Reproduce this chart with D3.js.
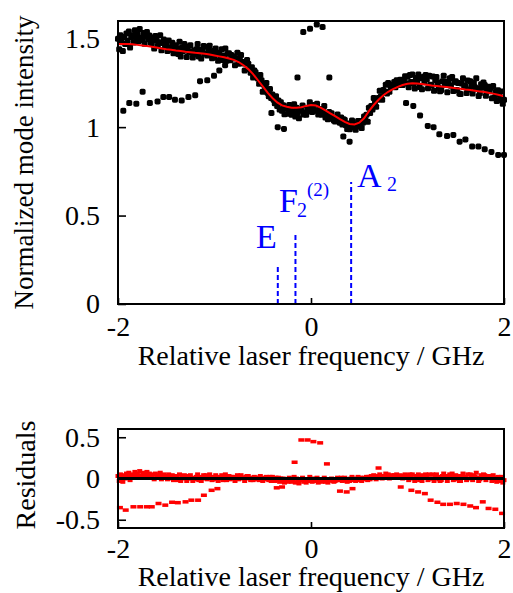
<!DOCTYPE html>
<html>
<head>
<meta charset="utf-8">
<script src="https://cdn.jsdelivr.net/npm/d3@7"></script>
<style>
  html, body { margin: 0; padding: 0; background: #fff; }
  svg { display: block; font-family: "Liberation Serif", "Times New Roman", serif; }
</style>
</head>
<body>
<svg id="chart" width="513" height="593"></svg>
<script>
// Laser sweep from -2 to 2 GHz; fit sampled every 50 MHz, four readings per fit step.
const sweepStart = -2;
const fitStep = 0.05;
const subStep = 0.0125;

// Fitted normalized mode intensity at each 50 MHz step (-2.00 ... 2.00 GHz)
const fitIntensity = [
  1.47, 1.47, 1.47, 1.468, 1.465, 1.462, 1.458, 1.455, 1.45, 1.445,
  1.44, 1.437, 1.433, 1.43, 1.426, 1.423, 1.42, 1.418, 1.415, 1.41,
  1.405, 1.40, 1.395, 1.388, 1.38, 1.368, 1.35, 1.328, 1.30, 1.265,
  1.23, 1.195, 1.165, 1.14, 1.123, 1.115, 1.11, 1.11, 1.112, 1.12,
  1.125, 1.122, 1.11, 1.095, 1.078, 1.062, 1.045, 1.03, 1.018, 1.015,
  1.025, 1.05, 1.09, 1.125, 1.155, 1.18, 1.2, 1.215, 1.228, 1.238,
  1.245, 1.248, 1.247, 1.244, 1.24, 1.236, 1.233, 1.23, 1.227, 1.224,
  1.22, 1.217, 1.213, 1.21, 1.206, 1.202, 1.198, 1.193, 1.188, 1.182,
  1.175
];

// Residuals (measured - fit), four readings per fit step
const residualRows = [
  [0.03, -0.03, 0.05, 0.01], [-0.04, 0.04, 0.00, 0.06], [0.02, 0.07, -0.02, 0.04],
  [0.05, 0.01, 0.08, 0.03], [0.06, 0.02, 0.09, 0.04], [0.03, 0.07, 0.01, 0.05],
  [0.08, 0.04, 0.06, 0.02], [0.02, 0.05, -0.01, 0.06], [0.04, 0.01, 0.03, 0.07],
  [-0.01, 0.03, 0.05, 0.01],
  [0.03, -0.01, 0.05, 0.01], [0.00, 0.04, -0.02, 0.02], [0.03, 0.01, -0.02, 0.05],
  [-0.03, 0.02, 0.00, 0.04], [0.01, -0.03, 0.03, 0.00], [0.04, 0.00, -0.03, 0.01],
  [-0.01, 0.02, 0.05, -0.02], [0.02, -0.03, 0.01, 0.04], [0.00, 0.04, -0.01, 0.02],
  [0.05, 0.01, -0.02, 0.02], [-0.01, 0.04, 0.01, -0.03], [0.02, 0.00, 0.04, -0.02],
  [0.01, 0.05, -0.02, 0.02], [0.03, -0.01, 0.02, 0.00],
  [0.02, -0.03, 0.01, 0.04], [-0.01, 0.02, 0.04, 0.00], [0.01, -0.03, 0.02, 0.03],
  [0.03, 0.00, -0.02, 0.01], [-0.02, 0.02, 0.01, -0.01], [0.01, -0.02, 0.03, 0.00],
  [-0.03, 0.01, -0.01, 0.02], [0.00, -0.02, 0.02, -0.03], [0.02, -0.01, -0.03, 0.01],
  [-0.02, 0.01, -0.04, 0.00],
  [-0.03, 0.00, -0.05, -0.01], [-0.01, -0.04, 0.01, -0.02], [-0.04, -0.02, 0.02, -0.05],
  [0.00, -0.03, -0.06, -0.01], [-0.02, 0.01, -0.04, -0.03], [-0.05, -0.01, -0.03, 0.02],
  [-0.02, -0.04, 0.00, -0.03], [-0.03, 0.01, -0.05, -0.02], [-0.01, -0.04, -0.02, 0.01],
  [-0.04, -0.02, -0.05, -0.01], [-0.02, 0.00, -0.03, -0.04], [-0.03, -0.01, 0.01, -0.02],
  [-0.02, 0.01, -0.03, 0.00], [0.01, -0.02, -0.04, -0.01], [-0.03, 0.00, 0.02, -0.02],
  [0.00, -0.03, -0.01, 0.02], [-0.02, 0.01, -0.03, 0.00], [0.01, -0.01, 0.02, -0.02],
  [0.02, -0.01, 0.03, 0.01], [0.04, 0.01, -0.01, 0.03], [0.01, 0.05, 0.02, 0.00],
  [0.03, 0.02, 0.06, 0.01], [0.05, 0.00, 0.03, 0.04], [0.02, 0.04, 0.01, 0.05],
  [0.03, 0.01, 0.04, 0.02], [0.00, 0.03, 0.05, 0.01],
  [0.04, -0.02, 0.05, 0.01], [0.05, 0.00, -0.03, 0.03], [0.01, 0.05, -0.02, 0.03],
  [-0.03, 0.04, 0.01, 0.05], [0.03, -0.02, 0.05, 0.00], [0.00, 0.05, -0.03, 0.03],
  [0.05, 0.02, -0.01, -0.03], [-0.02, 0.03, 0.06, 0.01], [0.03, -0.03, 0.02, 0.05],
  [0.01, 0.06, -0.02, 0.03], [0.04, -0.01, 0.03, -0.03], [-0.03, 0.03, 0.06, 0.01],
  [0.02, -0.02, 0.05, 0.00], [0.05, 0.02, -0.02, 0.04], [0.02, 0.07, 0.01, -0.03],
  [-0.01, 0.04, 0.02, 0.05], [0.04, -0.02, 0.01, 0.03], [0.01, 0.03, -0.03, 0.04],
  [-0.02, 0.01, -0.04, 0.02], [0.00, -0.03, 0.02, -0.05], [-0.02, 0.01, -0.04, 0.00]
];

// Readings off the main band (second mode track)
const outlierFreq = [
  -1.945, -1.883, -1.81, -1.745, -1.67, -1.59, -1.53, -1.47, -1.41, -1.34,
  -1.27, -1.20, -1.15, -1.075, -1.005, -0.95, -0.89, -0.41, -0.345, -0.28,
  -0.14, -0.08, -0.01, 0.06, 0.12, 0.19, 0.335, 0.40, 0.985, 1.06,
  1.13, 1.21, 1.27, 1.33, 1.41, 1.475, 1.54, 1.60, 1.67, 1.735,
  1.80, 1.87, 1.94, 2.0
];
const outlierIntensity = [
  1.092, 1.136, 1.132, 1.20, 1.136, 1.145, 1.17, 1.17, 1.155, 1.15,
  1.17, 1.18, 1.26, 1.265, 1.29, 1.32, 1.35, 1.08, 1.00, 0.99,
  1.28, 1.538, 1.556, 1.58, 1.566, 1.28, 0.947, 0.918, 1.136, 1.12,
  1.066, 1.007, 1.0, 0.96, 0.95, 0.956, 0.918, 0.93, 0.89, 0.89,
  0.875, 0.86, 0.843, 0.843
];
const residOutlierFreq = [
  -1.98, -1.92, -1.84, -1.77, -1.70, -1.65, -1.58, -1.51, -1.44, -1.38,
  -1.30, -1.24, -1.17, -1.11, -1.03, -0.97, -0.355, -0.30, -0.17, -0.10,
  -0.035, 0.025, 0.095, 0.165, 0.30, 0.37, 0.43, 0.70, 0.93, 1.04,
  1.11, 1.18, 1.24, 1.31, 1.37, 1.44, 1.51, 1.58, 1.65, 1.71,
  1.78, 1.84, 1.91, 1.98
];
const residOutlierValue = [
  -0.35, -0.38, -0.34, -0.34, -0.34, -0.34, -0.30, -0.32, -0.285, -0.29,
  -0.28, -0.26, -0.26, -0.20, -0.14, -0.12, -0.11, -0.10, 0.20, 0.47,
  0.47, 0.45, 0.435, 0.18, -0.15, -0.16, -0.12, 0.13, -0.10, -0.14,
  -0.16, -0.18, -0.26, -0.285, -0.31, -0.31, -0.30, -0.31, -0.33, -0.35,
  -0.28, -0.36, -0.37, -0.42
];

// Transition stick spectrum
const lineNames = ["E", "F", "A"];
const lineFreq = [-0.344, -0.161, 0.416];
const lineStrength = [0.21, 0.40, 0.69];

const xTicks = [-2, 0, 2];
const yTicksMain = [0, 0.5, 1, 1.5];
const yTicksResid = [-0.5, 0, 0.5];

// ---------------------------------------------------------------
const svg = d3.select("#chart");
svg.append("rect").attr("width", 513).attr("height", 593).attr("fill", "#fff");

const left = 118, right = 504;
const main = { top: 21, bottom: 304 };
const resid = { top: 429, bottom: 528 };

const x = d3.scaleLinear().domain([-2, 2]).range([left, right]);
const yMain = d3.scaleLinear().domain([0, 1.6]).range([main.bottom, main.top]);
const yRes = d3.scaleLinear().domain([-0.6, 0.6]).range([resid.bottom, resid.top]);

const fitFreq = fitIntensity.map((_, i) => sweepStart + i * fitStep);
const readings = [];
residualRows.forEach((row, i) => {
  row.forEach((r, j) => {
    const f = fitFreq[i] + j * subStep;
    if (f <= 2.0001) readings.push({ f, r, y: fitIntensity[i] + r });
  });
});

const fmt = v => String(v).replace("\u2212", "-");
const serif = "Liberation Serif, Times New Roman, serif";

function drawAxes(yScale, yTicks, top, bottom, xPad) {
  const gx = svg.append("g").attr("transform", `translate(0,${bottom})`)
    .call(d3.axisBottom(x).tickValues(xTicks).tickSizeInner(-6).tickSizeOuter(0)
      .tickPadding(xPad).tickFormat(fmt));
  const gy = svg.append("g").attr("transform", `translate(${left},0)`)
    .call(d3.axisLeft(yScale).tickValues(yTicks).tickSizeInner(-8).tickSizeOuter(0)
      .tickPadding(18).tickFormat(fmt));
  [gx, gy].forEach(g => {
    g.select(".domain").remove();
    g.selectAll(".tick line").attr("stroke", "#000").attr("stroke-width", 1.6);
    g.selectAll(".tick text").attr("fill", "#000").attr("font-size", 28)
      .attr("font-family", serif);
  });
  svg.append("rect").attr("x", left).attr("y", top)
    .attr("width", right - left).attr("height", bottom - top)
    .attr("fill", "none").attr("stroke", "#000").attr("stroke-width", 2);
}

// ---------- Main panel ----------
const mainG = svg.append("g");
mainG.selectAll("rect.obs").data(readings).join("rect")
  .attr("class", "obs")
  .attr("x", d => x(d.f) - 3).attr("y", d => yMain(d.y) - 3)
  .attr("width", 6).attr("height", 6).attr("rx", 1.5)
  .attr("fill", "#000");

mainG.selectAll("rect.alt").data(outlierFreq.map((f, i) => ({ f, y: outlierIntensity[i] }))).join("rect")
  .attr("class", "alt")
  .attr("x", d => x(d.f) - 3).attr("y", d => yMain(d.y) - 3)
  .attr("width", 6).attr("height", 6).attr("rx", 1.8)
  .attr("fill", "#000");

mainG.append("path")
  .datum(fitFreq.map((f, i) => [f, fitIntensity[i]]))
  .attr("fill", "none").attr("stroke", "#ff0000").attr("stroke-width", 2)
  .attr("d", d3.line().x(d => x(d[0])).y(d => yMain(d[1])));

// stick spectrum
mainG.selectAll("line.stick").data(lineFreq.map((f, i) => ({ f, s: lineStrength[i] }))).join("line")
  .attr("class", "stick")
  .attr("x1", d => x(d.f)).attr("x2", d => x(d.f))
  .attr("y1", yMain(0)).attr("y2", d => yMain(d.s))
  .attr("stroke", "#0000ff").attr("stroke-width", 2).attr("stroke-dasharray", "5,3");

const blue = "#0000ff";
const lab = svg.append("g").attr("fill", blue).attr("font-family", serif);
lab.append("text").attr("x", 256).attr("y", 248).attr("font-size", 34).text("E");
lab.append("text").attr("x", 279).attr("y", 212).attr("font-size", 34).text("F");
lab.append("text").attr("x", 297).attr("y", 217).attr("font-size", 20).text("2");
lab.append("text").attr("x", 307).attr("y", 196).attr("font-size", 19).text("(2)");
lab.append("text").attr("x", 357).attr("y", 187).attr("font-size", 34).text("A");
lab.append("text").attr("x", 387).attr("y", 191).attr("font-size", 20).text("2");

drawAxes(yMain, yTicksMain, main.top, main.bottom, 12);

// ---------- Residual panel ----------
const resG = svg.append("g");
resG.selectAll("rect.res").data(readings).join("rect")
  .attr("class", "res")
  .attr("x", d => x(d.f) - 2.5).attr("y", d => yRes(d.r) - 2)
  .attr("width", 5).attr("height", 4)
  .attr("fill", "#ff0000");
resG.selectAll("rect.resAlt").data(residOutlierFreq.map((f, i) => ({ f, r: residOutlierValue[i] }))).join("rect")
  .attr("class", "resAlt")
  .attr("x", d => x(d.f) - 3).attr("y", d => yRes(d.r) - 1.5)
  .attr("width", 6).attr("height", 3.5)
  .attr("fill", "#ff0000");
resG.append("line")
  .attr("x1", x(-2)).attr("x2", x(2)).attr("y1", yRes(0)).attr("y2", yRes(0))
  .attr("stroke", "#000").attr("stroke-width", 3);

drawAxes(yRes, yTicksResid, resid.top, resid.bottom, 10);

// ---------- Axis titles ----------
svg.append("text").attr("x", (left + right) / 2).attr("y", main.bottom + 61)
  .attr("text-anchor", "middle").attr("font-size", 28).attr("font-family", serif)
  .text("Relative laser frequency / GHz");
svg.append("text").attr("x", (left + right) / 2).attr("y", resid.bottom + 58)
  .attr("text-anchor", "middle").attr("font-size", 28).attr("font-family", serif)
  .text("Relative laser frequency / GHz");
svg.append("text").attr("transform", `translate(33,${(main.top + main.bottom) / 2}) rotate(-90)`)
  .attr("text-anchor", "middle").attr("font-size", 27).attr("font-family", serif)
  .text("Normalized mode intensity");
svg.append("text").attr("transform", `translate(35,475) rotate(-90)`)
  .attr("text-anchor", "middle").attr("font-size", 28).attr("font-family", serif)
  .text("Residuals");
</script>
</body>
</html>
